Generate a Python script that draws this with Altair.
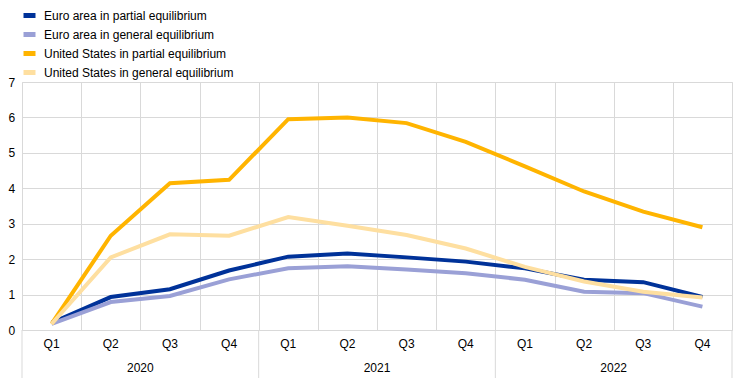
import altair as alt
import pandas as pd

quarters = ["Q1", "Q2", "Q3", "Q4"] * 3
years = ["2020", "2021", "2022"]
series_names = [
    "Euro area in partial equilibrium",
    "Euro area in general equilibrium",
    "United States in partial equilibrium",
    "United States in general equilibrium",
]
series_colors = ["#003299", "#9aa0d6", "#ffb400", "#fedfa0"]

euro_partial = [0.20, 0.93, 1.15, 1.68, 2.07, 2.16, 2.05, 1.93, 1.74, 1.42, 1.35, 0.93]
euro_general = [0.17, 0.79, 0.96, 1.43, 1.74, 1.80, 1.71, 1.60, 1.42, 1.08, 1.04, 0.66]
us_partial = [0.17, 2.66, 4.14, 4.24, 5.95, 6.00, 5.84, 5.31, 4.62, 3.91, 3.34, 2.90]
us_general = [0.17, 2.05, 2.70, 2.66, 3.19, 2.94, 2.68, 2.30, 1.78, 1.37, 1.08, 0.92]

all_values = [euro_partial, euro_general, us_partial, us_general]

rows = []
for s_i, (name, vals) in enumerate(zip(series_names, all_values)):
    for i, v in enumerate(vals):
        rows.append({"idx": i, "series": name, "order": s_i, "value": v})
df = pd.DataFrame(rows)

q_df = pd.DataFrame({"idx": list(range(len(quarters))), "q": quarters})
y_df = pd.DataFrame({"pos": [1.5, 5.5, 9.5], "year": years})
sep_df = pd.DataFrame({"pos": [-0.5, 3.5, 7.5, 11.5]})

W, H = 710, 248
FONT = "Liberation Sans"
GRID = "#d9d9d9"

xscale = alt.Scale(domain=[-0.5, 11.5], nice=False, zero=False)
yscale = alt.Scale(domain=[0, 7], nice=False)

lines = alt.Chart(df).mark_line(strokeWidth=4, strokeJoin="miter").encode(
    x=alt.X("idx:Q", scale=xscale,
            axis=alt.Axis(values=[i - 0.5 for i in range(13)], labels=False, ticks=False,
                          grid=True, gridColor=GRID, domain=False, title=None)),
    y=alt.Y("value:Q", scale=yscale,
            axis=alt.Axis(values=list(range(8)), grid=True, gridColor=GRID, domain=False,
                          ticks=False, tickSize=0, labelAlign="left", labelPadding=14,
                          labelFontSize=12, labelFont=FONT, labelColor="#000000",
                          title=None)),
    color=alt.Color("series:N",
                    scale=alt.Scale(domain=series_names, range=series_colors),
                    legend=alt.Legend(orient="none", legendX=-1, legendY=-75, title=None,
                                      symbolType="stroke", symbolSize=144,
                                      symbolStrokeWidth=5, labelFontSize=12,
                                      labelFont=FONT, labelColor="#000000",
                                      labelOffset=6, rowPadding=-4, padding=0,
                                      labelLimit=0)),
    detail="order:O",
    order="order:O",
)

seps = alt.Chart(sep_df).mark_rule(color=GRID, strokeWidth=1).encode(
    x=alt.X("pos:Q", scale=xscale),
    y=alt.value(H),
    y2=alt.value(H + 48),
)

qlabels = alt.Chart(q_df).mark_text(fontSize=12, font=FONT, color="#000000",
                                    baseline="middle").encode(
    x=alt.X("idx:Q", scale=xscale),
    y=alt.value(H + 14),
    text="q:N",
)

ylabels = alt.Chart(y_df).mark_text(fontSize=12, font=FONT, color="#000000",
                                    baseline="middle").encode(
    x=alt.X("pos:Q", scale=xscale),
    y=alt.value(H + 38),
    text="year:N",
)

chart = alt.layer(seps, lines, qlabels, ylabels).properties(
    width=W, height=H,
    autosize=alt.AutoSizeParams(type="none"),
    padding={"left": 14, "top": 74, "right": 4, "bottom": 48},
).configure_view(stroke=None).configure(font=FONT, background="white")

chart.save("out.html", embed_options={"renderer": "svg", "actions": False})
